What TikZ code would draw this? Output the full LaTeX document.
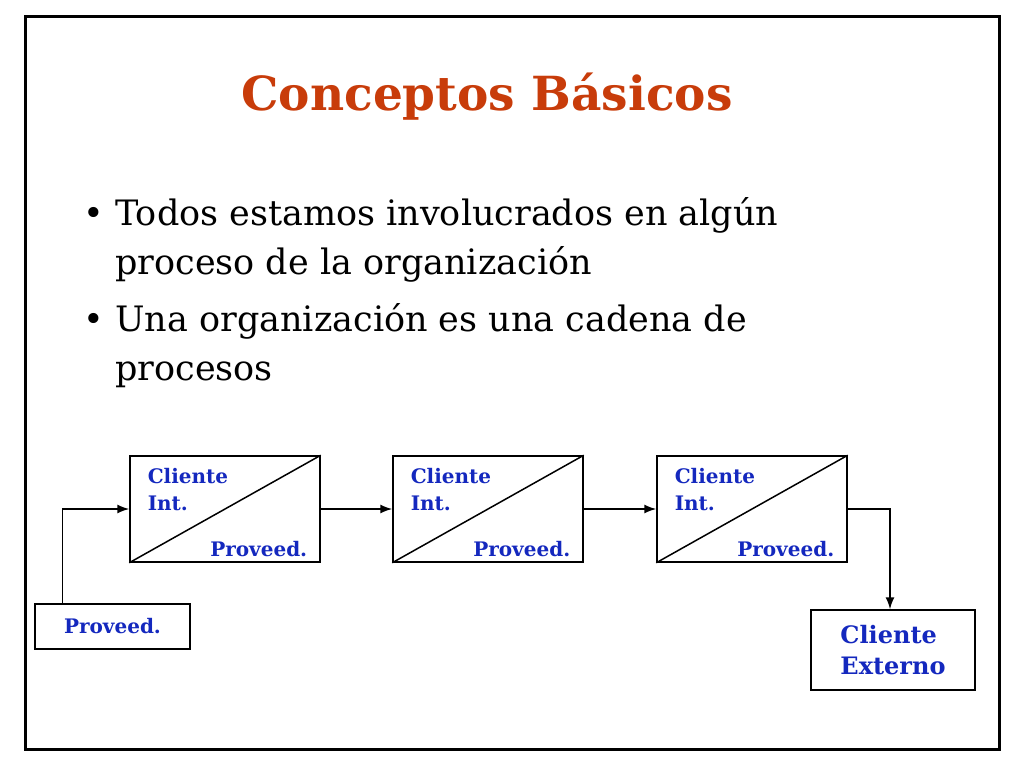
\documentclass[tikz,border=0pt]{standalone}
\usepackage{fontspec}
\setmainfont{DejaVu Serif}
\usetikzlibrary{arrows.meta}
\definecolor{titlered}{RGB}{200,60,10}
\definecolor{labelblue}{RGB}{20,40,190}
\tikzset{
  procbox/.style={draw,line width=1.5pt,minimum width=190pt,minimum height=106pt,inner sep=0pt},
  endbox/.style={draw,line width=1.5pt,inner sep=0pt},
  lbl/.style={text=labelblue,font=\fontsize{20}{27}\selectfont\bfseries,align=left},
  link/.style={line width=1.5pt,-{Latex[length=12pt,width=9pt]}}
}
\begin{document}
\begin{tikzpicture}[x=1pt,y=-1pt]
\useasboundingbox (0,0) rectangle (1024,768);
% frame
\draw[line width=3pt] (25,17) rectangle (999,749);
% title and bullets
\node[text=titlered,font=\fontsize{47}{52}\selectfont\bfseries] (title) at (487,97) {Conceptos Básicos};
\node[anchor=west,font=\fontsize{35}{49}\selectfont,align=left] (b1) at (80,240) {•\ Todos estamos involucrados en algún\\\phantom{•\ }proceso de la organización};
\node[anchor=west,font=\fontsize{35}{49}\selectfont,align=left] (b2) at (80,346) {•\ Una organización es una cadena de\\\phantom{•\ }procesos};
% process boxes
\foreach \n/\x in {p1/225, p2/488, p3/752} {
  \node[procbox] (\n) at (\x,509) {};
  \draw[line width=1.5pt] (\n.south west) -- (\n.north east);
  \node[lbl,anchor=north west] at ([xshift=15pt,yshift=-10pt]\n.north west) {Cliente\\Int.};
  \node[lbl,anchor=south east] at ([xshift=-10pt,yshift=2pt]\n.south east) {Proveed.};
}
% supplier and external customer
\node[endbox,minimum width=155pt,minimum height=45pt] (sup) at (112.5,626.5) {};
\node[lbl] at (sup) {Proveed.};
\node[endbox,minimum width=164pt,minimum height=80pt] (ext) at (893,650) {};
\node[lbl,font=\fontsize{24}{31}\selectfont\bfseries] at (ext) {Cliente\\Externo};
% connectors
\coordinate (c2) at (890,508);
\draw[link] ([xshift=-50pt]sup.north) |- (p1.west);
\draw[link] (p1) -- (p2);
\draw[link] (p2) -- (p3);
\draw[link] (p3.east) -| (ext.north -| c2);
\end{tikzpicture}
\end{document}
